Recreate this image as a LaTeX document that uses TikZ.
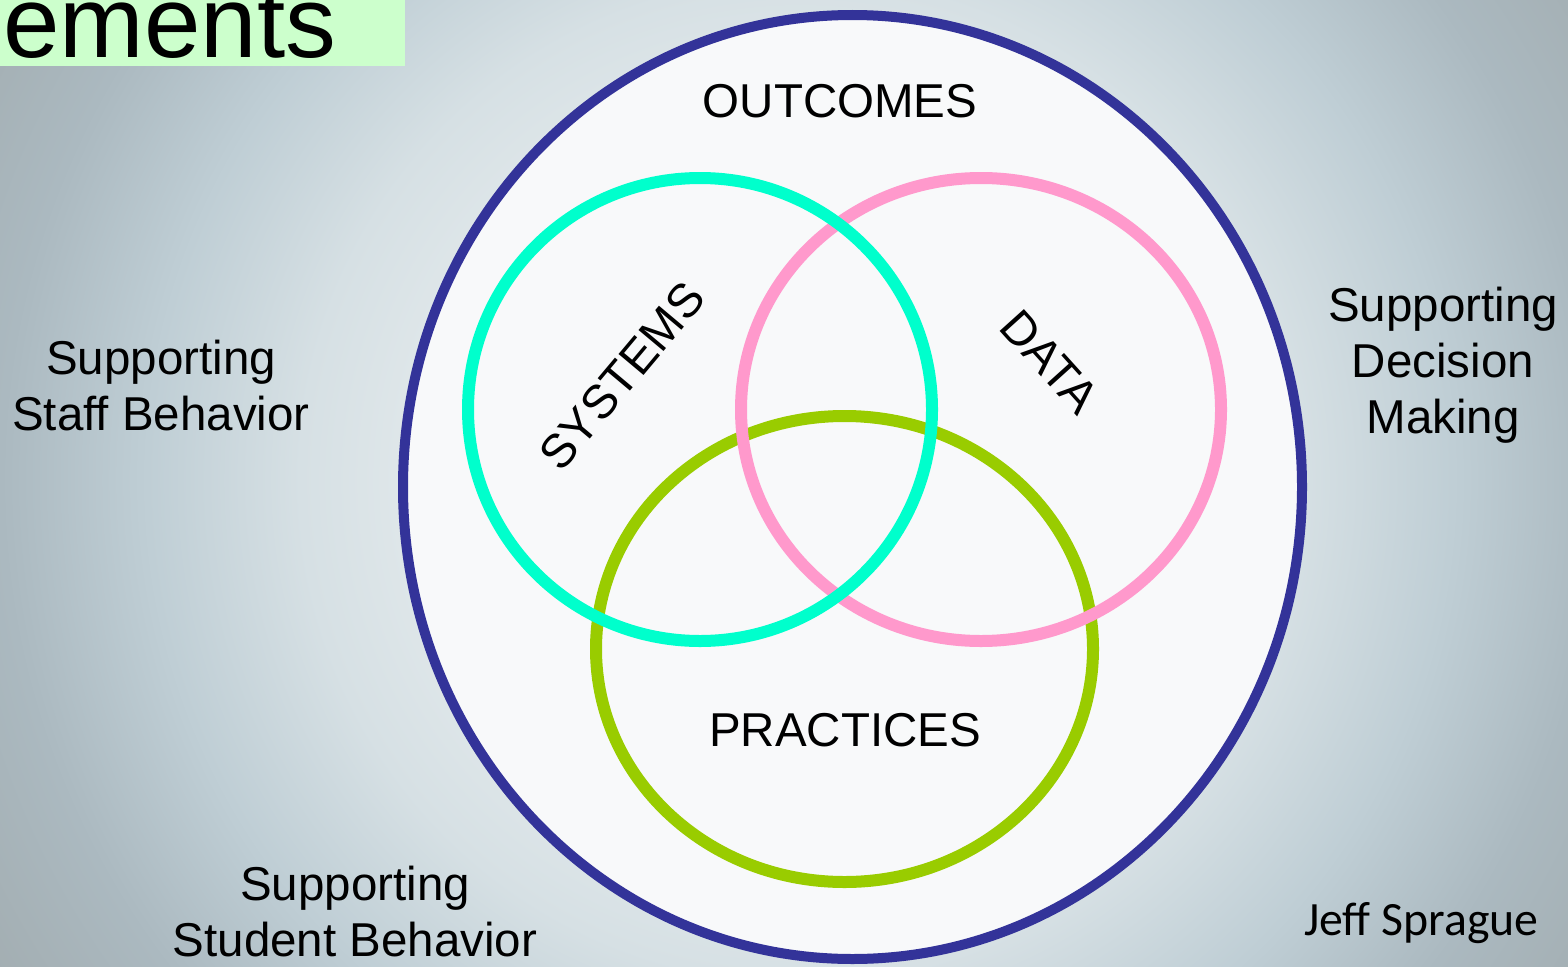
\documentclass[tikz,border=0pt]{standalone}
\usepackage{fontspec}
\setmainfont{Liberation Sans}
\newfontfamily\calibrifont{Carlito}
\definecolor{bgA}{HTML}{F2F5F6}
\definecolor{bgB}{HTML}{E6ECEE}
\definecolor{bgC}{HTML}{D6E0E4}
\definecolor{bgD}{HTML}{BFCED5}
\definecolor{bgE}{HTML}{ABB9C0}
\definecolor{bgF}{HTML}{A3AEB2}
\definecolor{outerblue}{HTML}{333399}
\definecolor{sysc}{HTML}{00FFCC}
\definecolor{datac}{HTML}{FF99CC}
\definecolor{pracc}{HTML}{99CC00}
\definecolor{titlebg}{HTML}{CCFFCC}
\definecolor{innerfill}{HTML}{F8F9FA}
\pgfdeclareradialshading{bgshade}{\pgfpoint{0bp}{0bp}}{color(0bp)=(bgA); color(8bp)=(bgB); color(13bp)=(bgC); color(17bp)=(bgD); color(20.8bp)=(bgE); color(24.5bp)=(bgF); color(50bp)=(bgF)}
\tikzset{
  lbl/.style={font=\fontsize{47.5}{56}\selectfont, inner sep=0pt, text=black},
  side/.style={lbl, align=center, anchor=north},
  ring/.style={line width=12pt}
}
\begin{document}
\begin{tikzpicture}[x=1pt,y=-1pt]
\useasboundingbox (0,0) rectangle (1568,966);
\begin{scope}
\clip (0,0) rectangle (1568,966);
\shade[shading=bgshade] (-160,-480) rectangle (1760,1440);
\end{scope}
% title strip
\fill[titlebg] (0,0) rectangle (405,66);
\begin{scope}
\clip (0,0) rectangle (1568,966);
\node[lbl, font=\fontsize{101.5}{100}\selectfont, anchor=base west] (title) at (3,57) {ements};
\end{scope}
% outer ellipse
\draw[line width=10pt, draw=outerblue, fill=innerfill] (852.5,487) ellipse [x radius=449.5, y radius=472];
% rings
\draw[ring, draw=pracc] (844.5,649) ellipse [x radius=248.5, y radius=233];
\draw[ring, draw=datac] (981,409.5) ellipse [x radius=240, y radius=231.5];
\draw[ring, draw=sysc] (700,409.5) ellipse [x radius=232, y radius=231.5];
% labels
\node[lbl] (outcomes) at (840,101) {OUTCOMES};
\node[lbl] (practices) at (845,730) {PRACTICES};
\node[lbl, rotate=50] (systems) at (622,376) {SYSTEMS};
\node[lbl, rotate=-48] (data) at (1050,362) {DATA};
\node[side] (staff) at (161,340) {Supporting\\Staff Behavior};
\node[side] (decision) at (1443,287) {Supporting\\Decision\\Making};
\node[side] (student) at (355,866) {Supporting\\Student Behavior};
\node[lbl, font=\calibrifont\fontsize{47.8}{56}\selectfont, anchor=base west] (author) at (1304,935) {Jeff Sprague};
\end{tikzpicture}
\end{document}
